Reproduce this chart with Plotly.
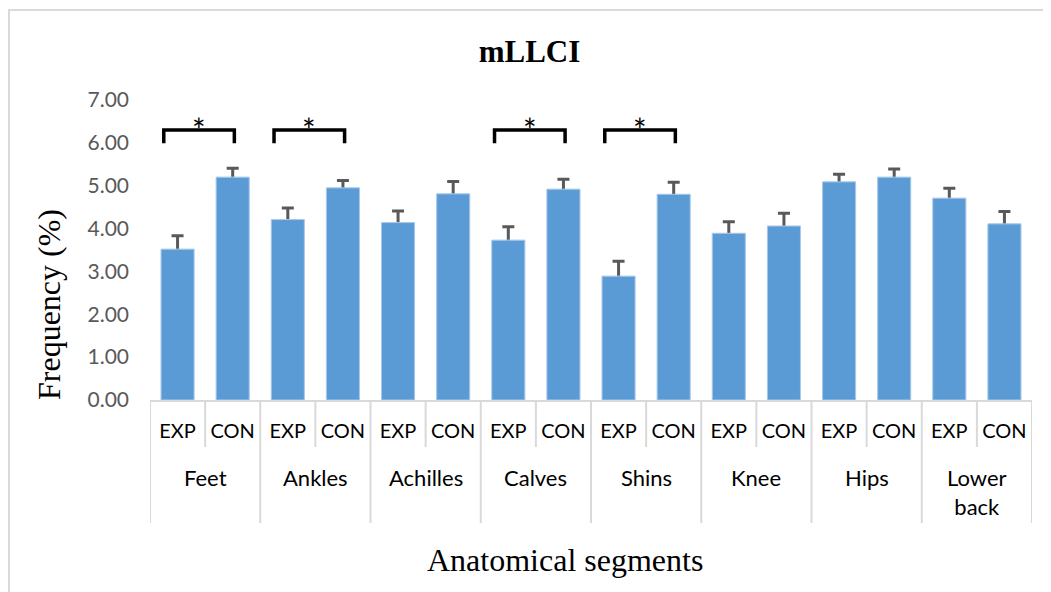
"""mLLCI frequency by anatomical segment, EXP vs CON, with significance brackets."""

import plotly.graph_objects as go

segments = ["Feet", "Ankles", "Achilles", "Calves", "Shins", "Knee", "Hips", "Lower<br>back"]
groups = ["EXP", "CON"]

exp_values = [3.52, 4.21, 4.14, 3.73, 2.89, 3.89, 5.09, 4.71]
con_values = [5.20, 4.95, 4.81, 4.92, 4.80, 4.06, 5.20, 4.11]
exp_err = [0.31, 0.27, 0.27, 0.31, 0.35, 0.27, 0.18, 0.23]
con_err = [0.21, 0.17, 0.29, 0.23, 0.28, 0.30, 0.19, 0.29]

# segments flagged with * (EXP vs CON)
significant = [True, True, False, True, True, False, False, False]

BAR_COLOR = "#5B9BD5"
AXIS_GRAY = "#D9D9D9"

# page body has an 8px margin, so the figure is laid out 8px smaller
W, H = 1043, 584
PLOT_L, PLOT_T, PLOT_R, PLOT_B = 142, 92, 1024, 392
PLOT_W, PLOT_H = PLOT_R - PLOT_L, PLOT_B - PLOT_T

x_keys, x_text, y_vals, y_err = [], [], [], []
for i, seg in enumerate(segments):
    for g, v, e in ((groups[0], exp_values[i], exp_err[i]), (groups[1], con_values[i], con_err[i])):
        x_keys.append(f"{seg} {g}")
        x_text.append(g)
        y_vals.append(v)
        y_err.append(e)

fig = go.Figure()
# error bars sit on a transparent copy so the real bars hide their lower half
fig.add_trace(go.Bar(
    x=x_keys, y=y_vals,
    marker=dict(color="rgba(0,0,0,0)"),
    error_y=dict(type="data", array=y_err, color="#595959", thickness=3, width=6),
    hoverinfo="skip",
))
fig.add_trace(go.Bar(
    x=x_keys, y=y_vals,
    marker=dict(color=BAR_COLOR, line=dict(color="#A9C9EA", width=1)),
    hovertemplate="%{x}<br>%{y:.2f}<extra></extra>",
))

shapes = []
annotations = []

# significance brackets
for i, sig in enumerate(significant):
    if not sig:
        continue
    x0 = 2 * i - 0.25
    x1 = 2 * i + 1 + 0.03
    shapes.append(dict(
        type="path", xref="x", yref="y",
        path=f"M {x0},5.99 L {x0},6.30 L {x1},6.30 L {x1},5.99",
        line=dict(color="black", width=3.5),
    ))
    annotations.append(dict(
        x=(x0 + x1) / 2, y=6.31, xref="x", yref="y", text="*", showarrow=False,
        yanchor="middle", font=dict(family="Lato", size=32, color="black"),
    ))

# category boundaries: short ticks inside a group, long dividers between groups
for k in range(len(x_keys) + 1):
    depth = 123 if k % 2 == 0 else 47
    shapes.append(dict(
        type="line", xref="x", yref="paper", x0=k - 0.5, x1=k - 0.5,
        y0=0, y1=-depth / PLOT_H, line=dict(color=AXIS_GRAY, width=2),
    ))

for i, seg in enumerate(segments):
    annotations.append(dict(
        x=2 * i + 0.5, y=-62 / PLOT_H, xref="x", yref="paper", text=seg, showarrow=False,
        yanchor="top", font=dict(family="Lato", size=22, color="black"),
    ))

# axis titles
annotations.append(dict(
    x=(557 - PLOT_L) / PLOT_W, y=-(552 - PLOT_B) / PLOT_H, xref="paper", yref="paper",
    text="Anatomical segments", showarrow=False, xanchor="center", yanchor="middle",
    font=dict(family="Liberation Serif", size=32, color="black"),
))
annotations.append(dict(
    x=(41 - PLOT_L) / PLOT_W, y=(PLOT_B - 297) / PLOT_H, xref="paper", yref="paper",
    text="Frequency (%)", textangle=-90, showarrow=False, xanchor="center", yanchor="middle",
    font=dict(family="Liberation Serif", size=32, color="black"),
))

# outer chart frame (only top and left edges fall inside the image)
shapes.append(dict(
    type="rect", xref="paper", yref="paper",
    x0=-(PLOT_L - 1) / PLOT_W, x1=1.5, y0=-3, y1=(PLOT_B - 2) / PLOT_H,
    line=dict(color=AXIS_GRAY, width=2), layer="below",
))

fig.update_layout(
    width=W, height=H,
    paper_bgcolor="white", plot_bgcolor="white",
    margin=dict(l=PLOT_L, r=W - PLOT_R, t=PLOT_T, b=H - PLOT_B),
    title=dict(text="<b>mLLCI</b>", x=0.5, xanchor="center", y=1 - 43 / H, yanchor="middle",
               font=dict(family="Liberation Serif", size=31, color="black")),
    barmode="overlay",
    bargap=0.4,
    showlegend=False,
    shapes=shapes,
    annotations=annotations,
    xaxis=dict(
        type="category", range=[-0.5, len(x_keys) - 0.5],
        tickvals=x_keys, ticktext=x_text,
        showline=True, linecolor=AXIS_GRAY, linewidth=2,
        ticks="", ticklabelstandoff=12,
        tickfont=dict(family="Lato", size=20, color="black"),
        showgrid=False,
    ),
    yaxis=dict(
        range=[0, 7], dtick=1, tickformat=".2f",
        showgrid=False, zeroline=False, showline=False,
        tickfont=dict(family="Lato", size=21, color="#595959"),
        ticklabelstandoff=20,
    ),
)

fig.write_html("out.html")
